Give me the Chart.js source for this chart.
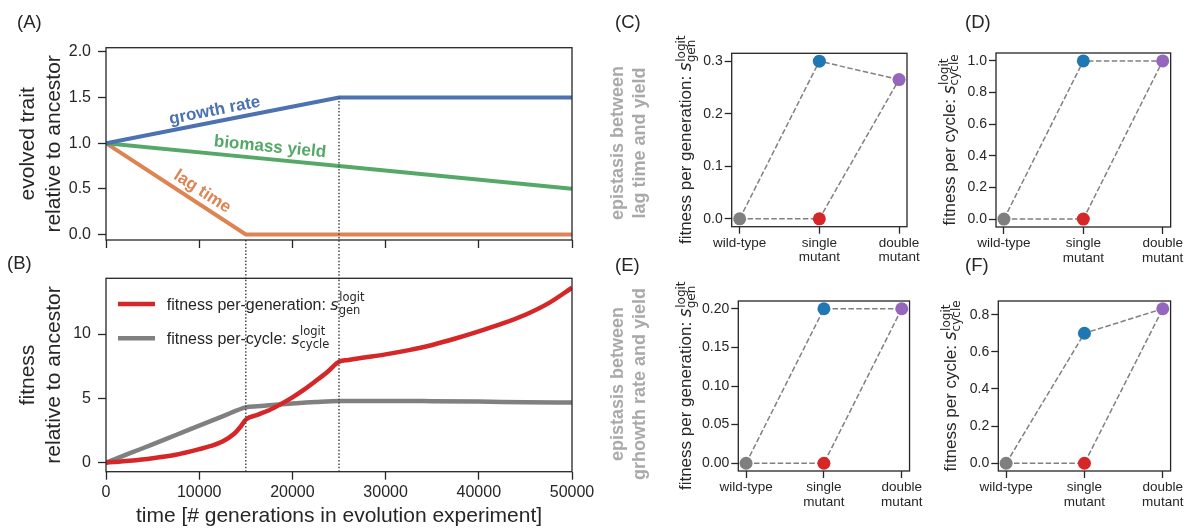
<!DOCTYPE html>
<html><head><meta charset="utf-8">
<script src="https://cdn.jsdelivr.net/npm/chart.js@4.4.1/dist/chart.umd.min.js"></script>
<style>
html,body{margin:0;padding:0;background:#fff;}
body{width:1186px;height:529px;position:relative;overflow:hidden;}
canvas{position:absolute;}
</style></head><body>
<canvas id="cA" width="600" height="282" style="left:0px;top:0px"></canvas>
<canvas id="cB" width="600" height="279" style="left:0px;top:250px"></canvas>
<canvas id="cC" width="325" height="262" style="left:600px;top:0px"></canvas>
<canvas id="cD" width="266" height="262" style="left:920px;top:0px"></canvas>
<canvas id="cE" width="325" height="279" style="left:600px;top:250px"></canvas>
<canvas id="cF" width="266" height="279" style="left:920px;top:250px"></canvas>
<script>
// ---------------- data ----------------
// Panel A: evolved traits relative to ancestor
const traitTimes   = [0, 15000, 25000, 50000];
const growthRate   = [1.0, 1.3, 1.5, 1.5];
const biomassYield = [1.0, 0.85, 0.75, 0.5];
const lagTime      = [1.0, 0.0, 0.0, 0.0];
const phaseBoundaries = [15000, 25000];
const timeTicks = [0, 10000, 20000, 30000, 40000, 50000];
const yTicksA = [0, 0.5, 1.0, 1.5, 2.0];

// Panel B: fitness relative to ancestor
const genTimes = [0,2500,5000,7500,10000,11250,12500,13750,14500,15000,16250,17500,18750,20000,21250,22500,23750,25000,26000,27500,30000,32500,35000,37500,40000,42500,45000,47500,50000];
const fitnessPerGeneration = [0,0.15,0.35,0.62,1.05,1.3,1.65,2.25,2.85,3.35,3.72,4.08,4.55,5.08,5.68,6.35,7.05,7.85,7.98,8.15,8.42,8.75,9.15,9.65,10.2,10.8,11.5,12.4,13.6];
const cycleTimes = [0,2500,5000,7500,10000,12500,15000,16250,17500,20000,22500,25000,30000,35000,40000,45000,50000];
const fitnessPerCycle = [0,0.72,1.42,2.15,2.88,3.6,4.3,4.38,4.46,4.6,4.72,4.8,4.8,4.78,4.75,4.7,4.67];
const yTicksB = [0, 5, 10];

// Panels C-F: epistasis (wild-type, single mutant, double mutant)
const genotypes = ['wild-type', 'single mutant', 'double mutant'];
const cViaBlue = [0, 0.30, 0.265];  const cViaRed = [0, 0, 0.265];
const dViaBlue = [0, 1.0, 1.0];     const dViaRed = [0, 0, 1.0];
const eViaBlue = [0, 0.20, 0.20];   const eViaRed = [0, 0, 0.20];
const fViaBlue = [0, 0.70, 0.832];  const fViaRed = [0, 0, 0.832];
const yTicksC = [0, 0.1, 0.2, 0.3];
const yTicksD = [0, 0.2, 0.4, 0.6, 0.8, 1.0];
const yTicksE = [0, 0.05, 0.10, 0.15, 0.20];
const yTicksF = [0, 0.2, 0.4, 0.6, 0.8];

// ---------------- style ----------------
const FONT = "'Liberation Sans', Arial, Helvetica, sans-serif";
const MATH = "'DejaVu Sans', sans-serif";
const INK = '#262626';
const BLUE = '#4c72b0', GREEN = '#55a868', ORANGE = '#dd8452';
const RED = '#d62728', GREYLINE = '#808080';
const M_GREY = '#7f7f7f', M_BLUE = '#1f77b4', M_RED = '#d62728', M_PURPLE = '#9467bd';

const tickGrid = (len) => ({display:true, drawOnChartArea:false, drawTicks:true, tickLength:len, tickWidth:1.3, tickColor:INK});
const setTicks = (arr) => (scale) => { scale.ticks = arr.map(v => ({value: v})); };
const pts = (xs, ys) => xs.map((x, i) => ({x: x, y: ys[i]}));

const framePlugin = {
  id: 'frame',
  afterDatasetsDraw(chart) {
    const {ctx, chartArea: a} = chart;
    ctx.save(); ctx.strokeStyle = INK; ctx.lineWidth = 1.3;
    ctx.strokeRect(a.left, a.top, a.right - a.left, a.bottom - a.top);
    ctx.restore();
  }
};

function segWidth(ctx, s) {
  ctx.font = s.font;
  if (s.sup !== undefined) return Math.max(ctx.measureText(s.sup).width, ctx.measureText(s.sub).width);
  return ctx.measureText(s.text).width;
}
function drawRich(ctx, segs, x, y, rot, align, color) {
  ctx.save(); ctx.translate(x, y); ctx.rotate(rot);
  const total = segs.reduce((a, s) => a + segWidth(ctx, s), 0);
  let cx = align === 'center' ? -total / 2 : 0;
  ctx.textAlign = 'left'; ctx.textBaseline = 'alphabetic'; ctx.fillStyle = color || INK;
  for (const s of segs) {
    const w = segWidth(ctx, s);
    ctx.font = s.font;
    if (s.sup !== undefined) {
      ctx.fillText(s.sup, cx + 0.5, s.supDy);
      ctx.fillText(s.sub, cx, s.subDy);
    } else {
      ctx.fillText(s.text, cx, s.dy || 0);
    }
    cx += w;
  }
  ctx.restore();
}
function panelLabel(ctx, txt, x, y) {
  ctx.save(); ctx.font = `18.5px ${FONT}`; ctx.fillStyle = INK;
  ctx.textAlign = 'left'; ctx.textBaseline = 'alphabetic'; ctx.fillText(txt, x, y); ctx.restore();
}
const mathLabel = (main, sup, sub, size, msize, supDy, subDy) => [
  {text: main, font: `${size}px ${FONT}`},
  {text: 's', font: `italic ${size}px ${MATH}`},
  {sup: sup, sub: sub, font: `${msize}px ${MATH}`, supDy: supDy, subDy: subDy}
];

const dotted = {borderColor: '#4a4a4a', borderWidth: 1.5, borderDash: [1.5, 1.9], pointRadius: 0, tension: 0};

// ---------------- Panel A ----------------
const aLabels = {
  id: 'aLabels',
  afterDraw(chart) {
    const {ctx} = chart;
    panelLabel(ctx, '(A)', 17, 28);
    const items = [
      {idx: 2, text: 'growth rate', at: 11900, off: 11},
      {idx: 3, text: 'biomass yield', at: 17470, off: 12},
      {idx: 4, text: 'lag time', at: 9620, off: 12}
    ];
    for (const it of items) {
      const ds = chart.data.datasets[it.idx];
      const meta = chart.getDatasetMeta(it.idx);
      let k = 0;
      while (k < ds.data.length - 2 && ds.data[k + 1].x < it.at) k++;
      const p0 = meta.data[k], p1 = meta.data[k + 1];
      const th = Math.atan2(p1.y - p0.y, p1.x - p0.x);
      const f = (it.at - ds.data[k].x) / (ds.data[k + 1].x - ds.data[k].x);
      const px = p0.x + f * (p1.x - p0.x), py = p0.y + f * (p1.y - p0.y);
      const cx = px + Math.sin(th) * it.off, cy = py - Math.cos(th) * it.off;
      ctx.save(); ctx.translate(cx, cy); ctx.rotate(th);
      ctx.font = `bold 17px ${FONT}`; ctx.fillStyle = ds.borderColor;
      ctx.textAlign = 'center'; ctx.textBaseline = 'middle';
      ctx.fillText(it.text, 0, 0); ctx.restore();
    }
  }
};
const A_MIN = -0.06, A_MAX = 2.045;
new Chart(document.getElementById('cA'), {
  type: 'line',
  data: {datasets: [
    Object.assign({label: 'b15', data: [{x: phaseBoundaries[0], y: A_MIN}, {x: phaseBoundaries[0], y: -0.5}], clip: false}, dotted),
    Object.assign({label: 'b25', data: [{x: phaseBoundaries[1], y: growthRate[2]}, {x: phaseBoundaries[1], y: -0.5}], clip: false}, dotted),
    {label: 'growth rate', data: pts(traitTimes, growthRate), borderColor: BLUE, borderWidth: 4, pointRadius: 0, tension: 0},
    {label: 'biomass yield', data: pts(traitTimes, biomassYield), borderColor: GREEN, borderWidth: 4, pointRadius: 0, tension: 0},
    {label: 'lag time', data: pts(traitTimes, lagTime), borderColor: ORANGE, borderWidth: 4, pointRadius: 0, tension: 0}
  ]},
  options: {
    responsive: false, animation: false, events: [],
    layout: {padding: {left: 0, top: 47.7, right: 28, bottom: 0}},
    plugins: {legend: {display: false}, tooltip: {enabled: false}},
    scales: {
      x: {type: 'linear', min: 0, max: 50000, afterBuildTicks: setTicks(timeTicks), afterFit: s => { s.height = 42; },
          ticks: {callback: () => '', maxRotation: 0}, grid: tickGrid(8), border: {display: false}},
      y: {type: 'linear', min: A_MIN, max: A_MAX, afterBuildTicks: setTicks(yTicksA), afterFit: s => { s.width = 106; },
          ticks: {callback: v => Number(v).toFixed(1), font: {family: FONT, size: 16}, color: INK, padding: 7},
          grid: tickGrid(8), border: {display: false},
          title: {display: true, text: ['evolved trait', 'relative to ancestor'], font: {family: FONT, size: 21, lineHeight: 1.27}, color: INK, padding: {top: 14.4, bottom: 0}}}
    }
  },
  plugins: [framePlugin, aLabels]
});

// ---------------- Panel B ----------------
const bMin = 0 - 0.05 * 13.6 - 0.02, bMax = 13.6 * 1.05 + 0.05;
const bLegend = {
  id: 'bLegend',
  afterDraw(chart) {
    const {ctx, chartArea: a} = chart;
    panelLabel(ctx, '(B)', 7, 19);
    const rows = [
      {idx: 2, segs: mathLabel('fitness per-generation: ', 'logit', 'gen', 16, 11.5, -9, 4), dy: 25.7},
      {idx: 3, segs: mathLabel('fitness per-cycle: ', 'logit', 'cycle', 16, 11.5, -9, 4), dy: 60}
    ];
    for (const r of rows) {
      const ds = chart.data.datasets[r.idx];
      const y = a.top + r.dy;
      ctx.save(); ctx.strokeStyle = ds.borderColor; ctx.lineWidth = 4.5; ctx.lineCap = 'butt';
      ctx.beginPath(); ctx.moveTo(a.left + 12, y); ctx.lineTo(a.left + 49, y); ctx.stroke(); ctx.restore();
      drawRich(ctx, r.segs, a.left + 60.7, y + 5.6, 0, 'left', INK);
    }
  }
};
new Chart(document.getElementById('cB'), {
  type: 'line',
  data: {datasets: [
    Object.assign({label: 'b15', data: [{x: phaseBoundaries[0], y: bMin}, {x: phaseBoundaries[0], y: bMax}]}, dotted),
    Object.assign({label: 'b25', data: [{x: phaseBoundaries[1], y: bMin}, {x: phaseBoundaries[1], y: bMax}]}, dotted),
    {label: 'per generation', data: pts(genTimes, fitnessPerGeneration), borderColor: RED, borderWidth: 4.5, pointRadius: 0, cubicInterpolationMode: 'monotone'},
    {label: 'per cycle', data: pts(cycleTimes, fitnessPerCycle), borderColor: GREYLINE, borderWidth: 4.5, pointRadius: 0, cubicInterpolationMode: 'monotone'}
  ]},
  options: {
    responsive: false, animation: false, events: [],
    layout: {padding: {left: 0, top: 28.3, right: 28, bottom: 0}},
    plugins: {legend: {display: false}, tooltip: {enabled: false}},
    scales: {
      x: {type: 'linear', min: 0, max: 50000, afterBuildTicks: setTicks(timeTicks), afterFit: s => { s.height = 57.3; },
          ticks: {callback: v => String(v), font: {family: FONT, size: 16}, color: INK, padding: 3, maxRotation: 0},
          grid: tickGrid(8), border: {display: false},
          title: {display: true, text: 'time [# generations in evolution experiment]', font: {family: FONT, size: 21, lineHeight: 1.2}, color: INK, padding: {top: 0, bottom: 0}}},
      y: {type: 'linear', min: bMin, max: bMax, afterBuildTicks: setTicks(yTicksB), afterFit: s => { s.width = 106; },
          ticks: {callback: v => String(v), font: {family: FONT, size: 16}, color: INK, padding: 7},
          grid: tickGrid(8), border: {display: false},
          title: {display: true, text: ['fitness', 'relative to ancestor'], font: {family: FONT, size: 21, lineHeight: 1.27}, color: INK, padding: {top: 14.4, bottom: 0}}}
    }
  },
  plugins: [framePlugin, bLegend]
});

// ---------------- Panels C-F ----------------
function epiChart(id, viaBlue, viaRed, yTicks, decimals, cfg) {
  const lo = Math.min(...viaBlue, ...viaRed), hi = Math.max(...viaBlue, ...viaRed);
  const pad = (hi - lo) * 0.05;
  const textPlugin = {
    id: 'epiText',
    afterDraw(chart) {
      const {ctx, chartArea: a} = chart;
      panelLabel(ctx, cfg.label, cfg.labelX, cfg.labelY);
      drawRich(ctx, cfg.title, cfg.titleX, (a.top + a.bottom) / 2, -Math.PI / 2, 'center', INK);
      if (cfg.side) {
        ctx.save(); ctx.font = `bold 18px ${FONT}`; ctx.fillStyle = '#a9a9a9';
        ctx.textAlign = 'center'; ctx.textBaseline = 'middle';
        cfg.side.forEach((t, i) => {
          ctx.save(); ctx.translate(18 + i * 22, cfg.sideY); ctx.rotate(-Math.PI / 2); ctx.fillText(t, 0, 0); ctx.restore();
        });
        ctx.restore();
      }
    }
  };
  new Chart(document.getElementById(id), {
    type: 'line',
    data: {datasets: [
      {label: 'genotypes', showLine: false,
       data: [{x: 0, y: viaBlue[0]}, {x: 1, y: viaBlue[1]}, {x: 1, y: viaRed[1]}, {x: 2, y: viaBlue[2]}],
       pointRadius: 6.5, pointBorderWidth: 0,
       pointBackgroundColor: [M_GREY, M_BLUE, M_RED, M_PURPLE], pointBorderColor: [M_GREY, M_BLUE, M_RED, M_PURPLE]},
      {label: 'path via first mutation', data: viaBlue.map((y, i) => ({x: i, y: y})), borderColor: GREYLINE, borderWidth: 1.5, borderDash: [5.5, 2.4], pointRadius: 0, tension: 0},
      {label: 'path via second mutation', data: viaRed.map((y, i) => ({x: i, y: y})), borderColor: GREYLINE, borderWidth: 1.5, borderDash: [5.5, 2.4], pointRadius: 0, tension: 0}
    ]},
    options: {
      responsive: false, animation: false, events: [],
      layout: {padding: {left: 0, top: cfg.top, right: cfg.right, bottom: 0}},
      plugins: {legend: {display: false}, tooltip: {enabled: false}},
      scales: {
        x: {type: 'linear', min: -0.1, max: 2.1, afterBuildTicks: setTicks([0, 1, 2]), afterFit: s => { s.height = cfg.xh; },
            ticks: {callback: v => { const g = genotypes[Math.round(v)]; return g.indexOf(' ') > 0 ? g.split(' ') : g; },
                    font: {family: FONT, size: 13.5, lineHeight: 1.08}, color: INK, padding: 2, maxRotation: 0, autoSkip: false},
            grid: tickGrid(7), border: {display: false}},
        y: {type: 'linear', min: lo - pad, max: hi + pad, afterBuildTicks: setTicks(yTicks), afterFit: s => { s.width = cfg.yw; },
            ticks: {callback: v => Number(v).toFixed(decimals), font: {family: FONT, size: 14}, color: INK, padding: 2},
            grid: tickGrid(7), border: {display: false}}
      }
    },
    plugins: [framePlugin, textPlugin]
  });
}
const genTitle = () => mathLabel('fitness per generation: ', 'logit', 'gen', 17, 12, -6.5, 3.5);
const cycTitle = () => mathLabel('fitness per cycle: ', 'logit', 'cycle', 17, 12, -6.5, 3.5);
epiChart('cC', cViaBlue, cViaRed, yTicksC, 1, {top: 53.3, right: 18, xh: 35.3, yw: 131.7, label: '(C)', labelX: 15, labelY: 28,
  title: genTitle(), titleX: 91.4, side: ['epistasis between', 'lag time and yield'], sideY: 143});
epiChart('cD', dViaBlue, dViaRed, yTicksD, 1, {top: 53, right: 14.3, xh: 35, yw: 76, label: '(D)', labelX: 45, labelY: 28,
  title: cycTitle(), titleX: 34.7});
epiChart('cE', eViaBlue, eViaRed, yTicksE, 2, {top: 51, right: 13.3, xh: 58, yw: 138.3, label: '(E)', labelX: 15, labelY: 21,
  title: genTitle(), titleX: 91.4, side: ['epistasis between', 'grhowth rate and yield'], sideY: 134});
epiChart('cF', fViaBlue, fViaRed, yTicksF, 1, {top: 51, right: 13.3, xh: 58, yw: 78.3, label: '(F)', labelX: 45, labelY: 21,
  title: cycTitle(), titleX: 36.4});
</script>
</body></html>
